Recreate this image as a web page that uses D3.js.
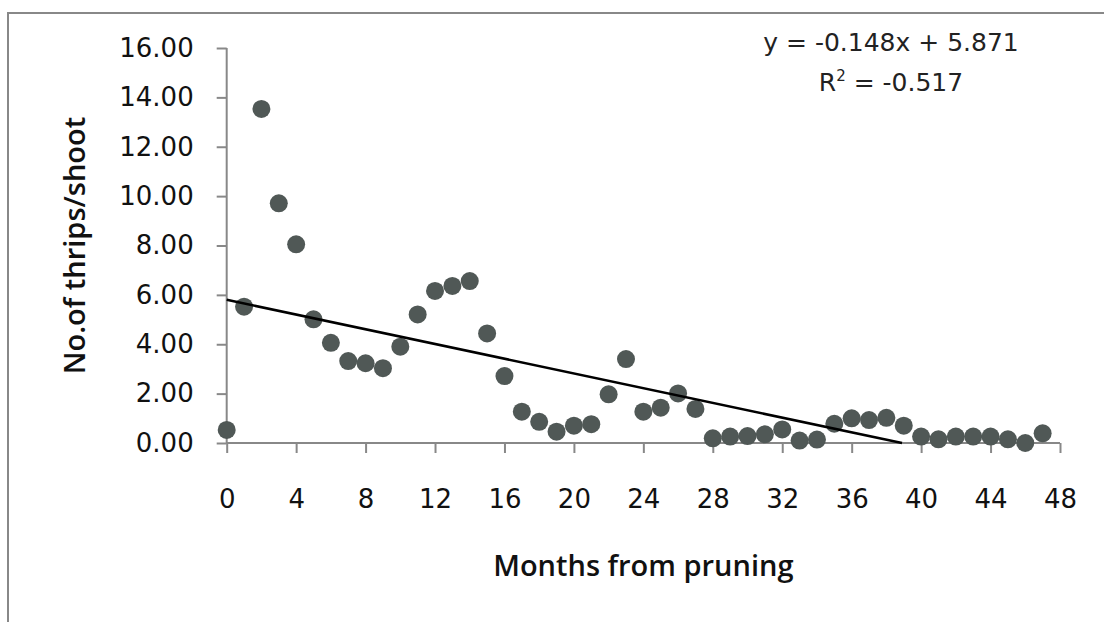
<!DOCTYPE html>
<html>
<head>
<meta charset="utf-8">
<script src="https://cdn.jsdelivr.net/npm/d3@7"></script>
<style>
  body { margin: 0; background: #fff; }
  svg { display: block; }
</style>
</head>
<body>
<div id="chart"></div>
<script>
// data
const months = [0, 1, 2, 3, 4, 5, 6, 7, 8, 9, 10, 11, 12, 13, 14, 15, 16, 17, 18, 19, 20, 21, 22, 23,
    24, 25, 26, 27, 28, 29, 30, 31, 32, 33, 34, 35, 36, 37, 38, 39, 40, 41, 42, 43, 44, 45, 46, 47];
const thrips = [0.53, 5.52, 13.53, 9.71, 8.05, 5.01, 4.06, 3.32, 3.23, 3.03, 3.90, 5.21, 6.16, 6.36, 6.56, 4.44,
    2.71, 1.27, 0.86, 0.46, 0.70, 0.76, 1.97, 3.40, 1.27, 1.43, 2.01, 1.38, 0.19, 0.26, 0.28, 0.35,
    0.55, 0.10, 0.14, 0.78, 1.00, 0.93, 1.02, 0.70, 0.26, 0.15, 0.26, 0.26, 0.26, 0.15, 0.00, 0.39];

// linear trend line endpoints as drawn
const trendX = [0, 38.9];
const trendY = [5.8, 0];

const xTicks = [0, 4, 8, 12, 16, 20, 24, 28, 32, 36, 40, 44, 48];
const yTicks = [0, 2, 4, 6, 8, 10, 12, 14, 16];

const equationText = 'y = -0.148x + 5.871';
const r2Text = ' = -0.517';

const W = 1104, H = 622;

var svg = d3.select('#chart').append('svg')
    .attr('width', W)
    .attr('height', H);

// outer chart frame
svg.append('rect')
    .attr('x', 8)
    .attr('y', 13)
    .attr('width', W + 10)
    .attr('height', H + 10)
    .attr('fill', 'none')
    .attr('stroke', '#888')
    .attr('stroke-width', 2);

// scales
var xScale = d3.scaleLinear()
    .domain([0, 48])
    .range([226.7, 1060]);

var yScale = d3.scaleLinear()
    .domain([0, 16])
    .range([443, 48]);

// axes
let xAxis = d3.axisBottom(xScale)
    .tickValues(xTicks)
    .tickSize(10)
    .tickPadding(37)
    .tickFormat(d3.format('d'));

let yAxis = d3.axisLeft(yScale)
    .tickValues(yTicks)
    .tickSize(10)
    .tickPadding(23)
    .tickFormat(d3.format('.2f'));

let xAxisGroup = svg.append('g')
    .attr('class', 'x-axis')
    .attr('transform', 'translate(0,' + yScale(0) + ')')
    .call(xAxis);

let yAxisGroup = svg.append('g')
    .attr('class', 'y-axis')
    .attr('transform', 'translate(' + xScale(0) + ',0)')
    .call(yAxis);

svg.selectAll('.x-axis .domain, .y-axis .domain')
    .attr('d', null);

[xAxisGroup, yAxisGroup].forEach(g => {
    g.selectAll('line').attr('stroke', '#888').attr('stroke-width', 2);
    g.selectAll('text')
        .attr('fill', '#111')
        .attr('font-family', 'DejaVu Sans')
        .attr('font-size', 26);
});

// plain axis lines (drawn after ticks)
svg.append('line')
    .attr('x1', xScale(0)).attr('x2', xScale(48))
    .attr('y1', yScale(0)).attr('y2', yScale(0))
    .attr('stroke', '#888').attr('stroke-width', 2);

svg.append('line')
    .attr('x1', xScale(0)).attr('x2', xScale(0))
    .attr('y1', yScale(0)).attr('y2', yScale(16))
    .attr('stroke', '#888').attr('stroke-width', 2);

// points
var points = months.map((m, i) => ({month: m, value: thrips[i]}));

svg.append('g')
    .selectAll('circle')
    .data(points)
    .join('circle')
    .attr('cx', d => xScale(d.month))
    .attr('cy', d => yScale(d.value))
    .attr('r', 9)
    .attr('fill', '#505856');

// trend line
var line = d3.line()
    .x(d => xScale(d[0]))
    .y(d => yScale(d[1]));

svg.append('path')
    .datum(trendX.map((x, i) => [x, trendY[i]]))
    .attr('d', line)
    .attr('fill', 'none')
    .attr('stroke', '#000')
    .attr('stroke-width', 2.6);

// axis titles
svg.append('text')
    .attr('x', (xScale(0) + xScale(48)) / 2)
    .attr('y', 576)
    .attr('text-anchor', 'middle')
    .attr('font-family', 'Open Sans')
    .attr('font-weight', 600)
    .attr('font-size', 29)
    .attr('fill', '#111')
    .text('Months from pruning');

svg.append('text')
    .attr('transform', 'translate(85,' + ((yScale(0) + yScale(16)) / 2) + ') rotate(-90)')
    .attr('text-anchor', 'middle')
    .attr('font-family', 'Open Sans')
    .attr('font-weight', 600)
    .attr('font-size', 29)
    .attr('fill', '#111')
    .text('No.of thrips/shoot');

// regression equation
svg.append('text')
    .attr('x', 891)
    .attr('y', 51)
    .attr('text-anchor', 'middle')
    .attr('font-family', 'DejaVu Sans')
    .attr('font-size', 25)
    .attr('fill', '#222')
    .text(equationText);

let r2 = svg.append('text')
    .attr('x', 891)
    .attr('y', 91)
    .attr('text-anchor', 'middle')
    .attr('font-family', 'DejaVu Sans')
    .attr('font-size', 25)
    .attr('fill', '#222');

r2.append('tspan').text('R');
r2.append('tspan').attr('dy', -10).attr('font-size', 15).text('2');
r2.append('tspan').attr('dy', 10).text(r2Text);
</script>
</body>
</html>
